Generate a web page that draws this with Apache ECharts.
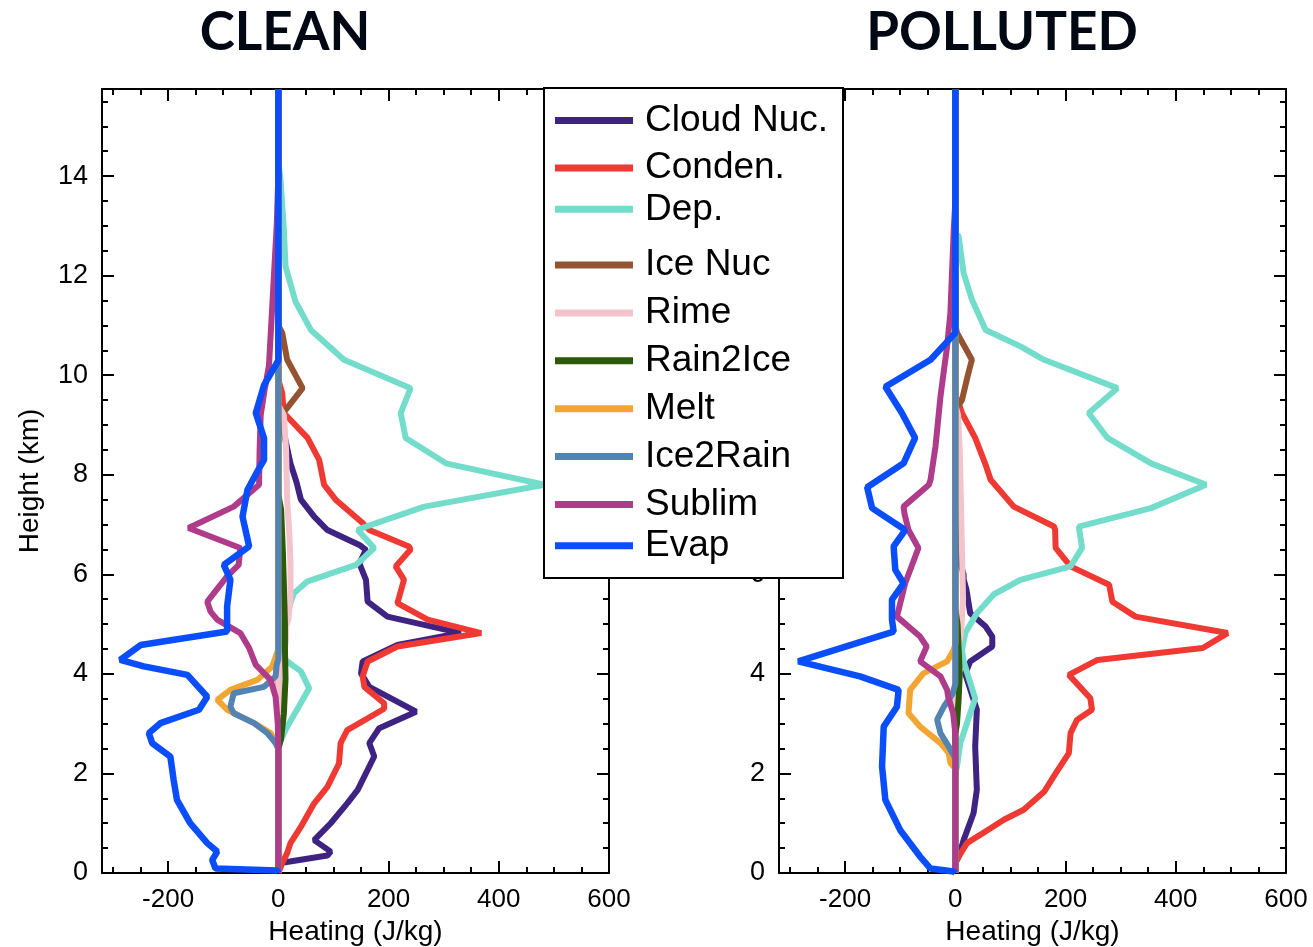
<!DOCTYPE html>
<html>
<head>
<meta charset="utf-8">
<script src="https://cdn.jsdelivr.net/npm/echarts@6/dist/echarts.min.js"></script>
<style>
  html, body { margin: 0; padding: 0; background: #fff; }
  #chart { width: 1313px; height: 947px; }
</style>
</head>
<body>
<div id="chart"></div>
<script>
// ---------------- DATA ([heating J/kg, height km]) ----------------
const panelTitles = ['CLEAN', 'POLLUTED'];
const seriesNames = ['Cloud Nuc.', 'Conden.', 'Dep.', 'Ice Nuc', 'Rime', 'Rain2Ice', 'Melt', 'Ice2Rain', 'Sublim', 'Evap'];
const heatTicks = [-200, 0, 200, 400, 600];
const heatMinorTicks = [-300, -250, -150, -100, -50, 50, 100, 150, 250, 300, 350, 450, 500, 550];
const heightTicks = [0, 2, 4, 6, 8, 10, 12, 14];
const heightMinorTicks = [0.5, 1, 1.5, 2.5, 3, 3.5, 4.5, 5, 5.5, 6.5, 7, 7.5, 8.5, 9, 9.5, 10.5, 11, 11.5, 12.5, 13, 13.5, 14.5, 15, 15.5];

// CLEAN
const cleanCloudNuc = [[0,15.75],[0,9.2],[3,9.05],[10,8.84],[22,8.23],[33,7.85],[41,7.5],[65,7.16],[89,6.89],[147,6.59],[159,6.49],[147,6.22],[159,5.89],[162,5.45],[198,5.15],[331,4.82],[216,4.58],[153,4.25],[150,4.01],[165,3.74],[250,3.24],[183,2.91],[165,2.61],[174,2.34],[144,1.67],[125,1.4],[95,1.0],[65,0.66],[95,0.43],[89,0.35],[4,0.2],[0,0]];
const cleanConden = [[0,15.75],[0,9.9],[7,9.64],[10,9.24],[53,8.74],[74,8.3],[83,7.8],[104,7.5],[153,7.03],[165,6.89],[237,6.56],[240,6.5],[213,6.16],[228,5.89],[216,5.42],[271,5.09],[368,4.82],[216,4.55],[162,4.25],[153,3.95],[156,3.74],[192,3.41],[192,3.3],[125,2.87],[113,2.61],[110,2.2],[89,1.73],[65,1.4],[41,0.93],[22,0.6],[16,0.4],[7,0.2],[0,0]];
const cleanDep = [[0,15.75],[0,14.3],[4,13.93],[10,12.92],[13,12.19],[31,11.48],[59,10.91],[119,10.31],[240,9.74],[222,9.24],[231,8.74],[304,8.23],[483,7.8],[265,7.36],[159,6.96],[144,6.89],[174,6.53],[141,6.19],[53,5.86],[28,5.62],[20,5.35],[8,5.0],[3,4.6],[2,4.5],[10,4.3],[41,4.05],[56,3.71],[37,3.34],[16,2.94],[5,2.68],[0,2.5],[0,0]];
const cleanIceNuc = [[0,15.75],[0,11.0],[7,10.85],[16,10.31],[44,9.74],[13,9.3],[0,9.2],[0,0]];
const cleanRime = [[0,15.75],[0,9.4],[10,9.2],[14,8.5],[16,7.5],[20,6.8],[22,6.2],[22,5.5],[18,5.1],[14,4.95],[14,4.7],[10,4.3],[0,4.1],[0,0]];
const cleanRain2Ice = [[0,15.75],[0,7.6],[5,7.3],[8,6.5],[10,5.8],[12,5.0],[12,4.5],[13,3.9],[10,3.2],[5,2.7],[0,2.5],[0,0]];
const cleanMelt = [[0,15.75],[0,4.5],[-11,4.15],[-38,3.88],[-87,3.68],[-111,3.48],[-93,3.28],[-44,3.01],[-14,2.81],[-5,2.61],[0,2.5],[0,0]];
const cleanIce2Rain = [[0,15.75],[0,4.3],[-3,4.18],[-5,3.95],[-26,3.74],[-81,3.61],[-87,3.34],[-81,3.21],[-44,3.01],[-20,2.81],[-5,2.61],[0,2.5],[0,0]];
const cleanSublim = [[0,15.75],[0,14],[-3,13],[-8,12],[-13,11],[-17,10.2],[-25,9.7],[-32,9.2],[-34,8.5],[-35,7.8],[-81,7.36],[-163,6.93],[-69,6.53],[-72,6.19],[-93,5.96],[-129,5.45],[-123,5.25],[-111,5.09],[-69,4.82],[-53,4.52],[-41,4.18],[-14,3.88],[-5,3.54],[-1,3.0],[0,2.5],[0,0]];
const cleanEvap = [[0,15.75],[0,10.3],[-26,9.8],[-41,9.24],[-26,8.74],[-26,8.3],[-35,8.13],[-56,7.7],[-65,7.16],[-53,6.56],[-99,6.19],[-87,5.89],[-93,5.35],[-93,4.85],[-250,4.58],[-287,4.28],[-244,4.15],[-165,3.98],[-129,3.54],[-144,3.28],[-214,3.01],[-235,2.81],[-229,2.61],[-196,2.34],[-190,1.87],[-184,1.47],[-160,1.0],[-129,0.6],[-111,0.43],[-120,0.26],[-114,0.09],[-2,0.05],[0,0]];

// POLLUTED
const pollCloudNuc = [[0,15.75],[0,8.0],[3,7.8],[3,7.4],[0,7.2],[2,6.5],[15,6.0],[15,5.9],[20,5.7],[27,5.22],[55,4.95],[67,4.75],[67,4.55],[27,4.25],[18,4.0],[39,3.28],[36,2.54],[39,1.67],[33,1.2],[15,0.66],[6,0.33],[0,0.2],[0,0]];
const pollConden = [[0,15.75],[0,9.6],[6,9.44],[12,9.24],[36,8.74],[55,8.2],[64,7.9],[106,7.36],[179,6.96],[181,6.9],[182,6.53],[209,6.16],[279,5.79],[285,5.45],[327,5.15],[494,4.82],[449,4.52],[258,4.28],[206,3.98],[245,3.51],[248,3.28],[221,3.08],[209,2.81],[206,2.41],[182,2.0],[161,1.63],[124,1.27],[88,1.07],[64,0.9],[21,0.6],[6,0.33],[0,0.2],[0,0]];
const pollDep = [[0,15.75],[0,12.85],[6,12.79],[15,12.05],[30,11.52],[55,10.91],[118,10.58],[161,10.31],[294,9.74],[242,9.24],[276,8.74],[355,8.23],[455,7.8],[355,7.33],[224,6.96],[230,6.53],[209,6.16],[118,5.89],[70,5.6],[39,5.22],[18,4.82],[12,4.48],[15,4.25],[36,3.51],[27,3.21],[9,2.61],[3,2.14],[0,2.0],[0,0]];
const pollIceNuc = [[0,15.75],[0,11.0],[3,10.85],[30,10.31],[22,9.97],[12,9.5],[0,9.3],[0,0]];
const pollRime = [[0,15.75],[0,9.4],[5,9.2],[8,8.5],[10,7.5],[12,6.5],[14,5.5],[10,4.8],[5,4.5],[0,4.3],[0,0]];
const pollRain2Ice = [[0,15.75],[0,5.3],[4,5.0],[6,4.5],[8,4.0],[6,3.5],[3,3.0],[0,2.8],[0,0]];
const pollMelt = [[0,15.75],[0,4.6],[-3,4.48],[-15,4.25],[-58,4.01],[-82,3.68],[-85,3.21],[-64,2.94],[-27,2.61],[-12,2.41],[-9,2.21],[0,2.1],[0,0]];
const pollIce2Rain = [[0,15.75],[0,3.8],[-5,3.6],[-21,3.34],[-33,3.08],[-27,2.81],[-12,2.54],[0,2.3],[0,0]];
const pollSublim = [[0,15.75],[0,13.5],[-3,12.9],[-9,11.25],[-15,10.58],[-27,9.57],[-36,8.57],[-45,7.9],[-48,7.8],[-94,7.36],[-92,7.2],[-85,6.89],[-67,6.53],[-91,5.82],[-106,5.15],[-64,4.75],[-52,4.55],[-64,4.25],[-27,3.95],[-15,3.68],[-13,3.54],[-4,3.21],[0,2.8],[0,0]];
const pollEvap = [[0,15.75],[0,10.85],[-45,10.31],[-127,9.77],[-97,9.24],[-73,8.74],[-94,8.23],[-160,7.75],[-151,7.33],[-91,6.89],[-112,6.56],[-109,6.09],[-94,5.82],[-115,5.49],[-115,5.09],[-112,4.85],[-285,4.25],[-173,3.95],[-103,3.68],[-106,3.34],[-130,2.94],[-133,2.14],[-127,1.47],[-100,0.86],[-64,0.33],[-45,0.09],[-3,0.03],[0,0]];

const cleanData = [cleanCloudNuc, cleanConden, cleanDep, cleanIceNuc, cleanRime, cleanRain2Ice, cleanMelt, cleanIce2Rain, cleanSublim, cleanEvap];
const pollData = [pollCloudNuc, pollConden, pollDep, pollIceNuc, pollRime, pollRain2Ice, pollMelt, pollIce2Rain, pollSublim, pollEvap];

// ---------------- STYLE ----------------
const colors = ['#3e2383', '#ee3a33', '#74dccb', '#955431', '#f5c3cc', '#2b5a0a', '#f1a633', '#5283b3', '#ae3c8b', '#0a4dfa'];
const X_MIN = -320, X_MAX = 600, Y_MIN = 0, Y_MAX = 15.75;
const FONT = 'Liberation Sans';
const grids = [
  { left: 102, top: 89, width: 507, height: 784, outerBoundsMode: 'none', containLabel: false },
  { left: 779, top: 89, width: 507, height: 784, outerBoundsMode: 'none', containLabel: false }
];

function xAxesFor(g) {
  const base = { gridIndex: g, type: 'value', min: X_MIN, max: X_MAX, splitLine: { show: false } };
  const tickStyle = { color: '#000', width: 2 };
  return [
    Object.assign({}, base, {
      position: 'bottom',
      axisLine: { show: true, onZero: false, lineStyle: { color: '#000', width: 2 } },
      axisTick: { show: true, inside: true, length: 12, customValues: heatTicks, lineStyle: tickStyle },
      axisLabel: { show: true, customValues: heatTicks, margin: 14, fontSize: 26, color: '#000', fontFamily: FONT },
      name: 'Heating (J/kg)', nameLocation: 'middle', nameGap: 44,
      nameTextStyle: { fontSize: 28, color: '#000', fontFamily: FONT }
    }),
    Object.assign({}, base, {
      position: 'bottom',
      axisLine: { show: false, onZero: false },
      axisTick: { show: true, inside: true, length: 6, customValues: heatMinorTicks, lineStyle: tickStyle },
      axisLabel: { show: false }
    }),
    Object.assign({}, base, {
      position: 'top',
      axisLine: { show: true, onZero: false, lineStyle: { color: '#000', width: 2 } },
      axisTick: { show: true, inside: true, length: 12, customValues: heatTicks, lineStyle: tickStyle },
      axisLabel: { show: false }
    }),
    Object.assign({}, base, {
      position: 'top',
      axisLine: { show: false, onZero: false },
      axisTick: { show: true, inside: true, length: 6, customValues: heatMinorTicks, lineStyle: tickStyle },
      axisLabel: { show: false }
    })
  ];
}

function yAxesFor(g, withName) {
  const base = { gridIndex: g, type: 'value', min: Y_MIN, max: Y_MAX, splitLine: { show: false } };
  const tickStyle = { color: '#000', width: 2 };
  const main = Object.assign({}, base, {
    position: 'left',
    axisLine: { show: true, onZero: false, lineStyle: { color: '#000', width: 2 } },
    axisTick: { show: true, inside: true, length: 12, customValues: heightTicks, lineStyle: tickStyle },
    axisLabel: { show: true, customValues: heightTicks, margin: 14, fontSize: 27, color: '#000', fontFamily: FONT }
  });
  if (withName) {
    main.name = 'Height (km)';
    main.nameLocation = 'middle';
    main.nameGap = 58;
    main.nameTextStyle = { fontSize: 28, color: '#000', fontFamily: FONT };
  }
  return [
    main,
    Object.assign({}, base, {
      position: 'left',
      axisLine: { show: false, onZero: false },
      axisTick: { show: true, inside: true, length: 6, customValues: heightMinorTicks, lineStyle: tickStyle },
      axisLabel: { show: false }
    }),
    Object.assign({}, base, {
      position: 'right',
      axisLine: { show: true, onZero: false, lineStyle: { color: '#000', width: 2 } },
      axisTick: { show: true, inside: true, length: 12, customValues: heightTicks, lineStyle: tickStyle },
      axisLabel: { show: false }
    }),
    Object.assign({}, base, {
      position: 'right',
      axisLine: { show: false, onZero: false },
      axisTick: { show: true, inside: true, length: 6, customValues: heightMinorTicks, lineStyle: tickStyle },
      axisLabel: { show: false }
    })
  ];
}

const series = [];
[cleanData, pollData].forEach(function (panel, p) {
  panel.forEach(function (d, i) {
    series.push({
      type: 'line',
      name: seriesNames[i],
      xAxisIndex: p * 4,
      yAxisIndex: p * 4,
      data: d,
      showSymbol: false,
      symbol: 'none',
      animation: false,
      color: colors[i],
      lineStyle: { color: colors[i], width: i === 9 ? 6.5 : 6 },
      z: 2
    });
  });
});

function legendGroup(names, top, gap) {
  return {
    show: true,
    data: names,
    orient: 'vertical',
    left: 555,
    top: top,
    padding: 0,
    itemGap: gap,
    itemWidth: 78,
    itemHeight: 7,
    icon: 'rect',
    selectedMode: false,
    z: 110,
    textStyle: { fontSize: 37, color: '#000', fontFamily: FONT, lineHeight: 40, padding: [3, 0, 0, 7] }
  };
}

const option = {
  animation: false,
  backgroundColor: '#fff',
  grid: grids,
  xAxis: xAxesFor(0).concat(xAxesFor(1)),
  yAxis: yAxesFor(0, true).concat(yAxesFor(1, false)),
  legend: [
    legendGroup(['Cloud Nuc.', 'Conden.'], 99, 4.6),
    legendGroup(['Dep.'], 187.8, 5),
    legendGroup(['Ice Nuc', 'Rime', 'Rain2Ice', 'Melt', 'Ice2Rain', 'Sublim'], 243.5, 4.9),
    legendGroup(['Evap'], 524.2, 5)
  ],
  graphic: [
    { type: 'rect', z: 100, shape: { x: 544, y: 88, width: 299, height: 490 },
      style: { fill: '#fff', stroke: '#000', lineWidth: 2 } },
    { type: 'text', z: 100, x: 285, y: 33,
      style: { text: panelTitles[0], font: 'bold 53px Lato', fill: '#000814', align: 'center', verticalAlign: 'middle' } },
    { type: 'text', z: 100, x: 1002, y: 33,
      style: { text: panelTitles[1], font: 'bold 53px Lato', fill: '#000814', align: 'center', verticalAlign: 'middle' } }
  ],
  series: series
};

const chart = echarts.init(document.getElementById('chart'), null, { renderer: 'canvas' });
chart.setOption(option);
</script>
</body>
</html>
